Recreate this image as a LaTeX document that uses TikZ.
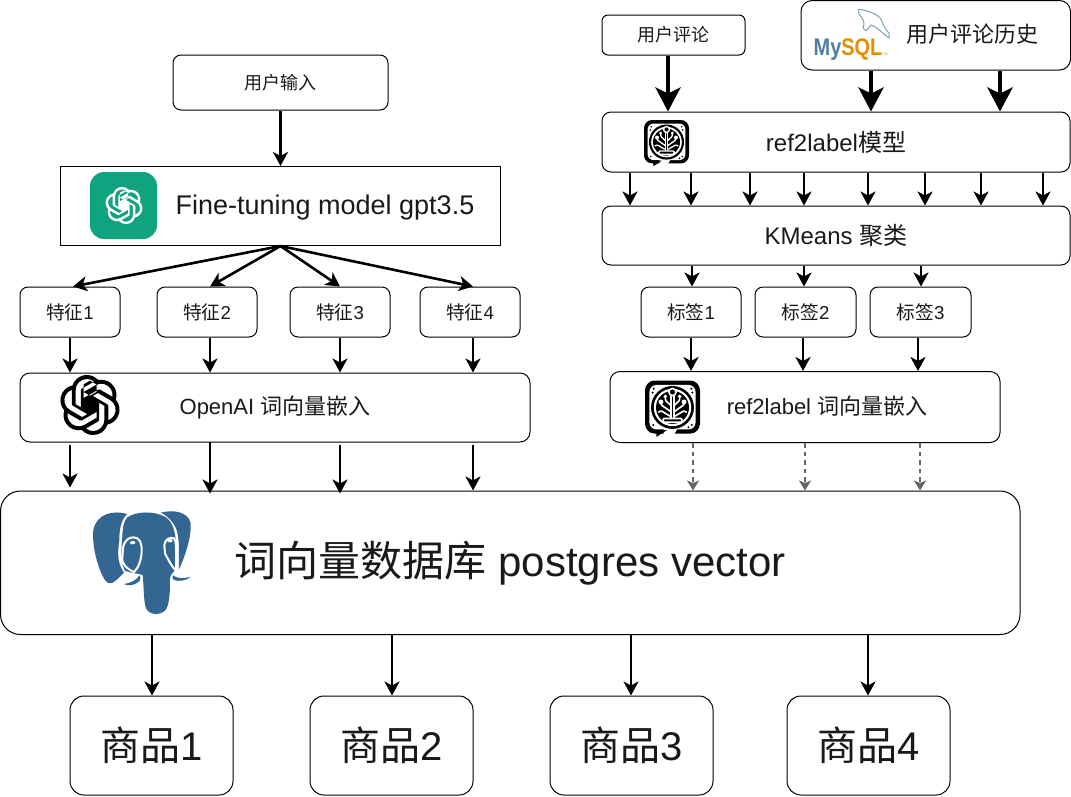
\documentclass[tikz,border=0pt]{standalone}
\usepackage{fontspec}
\setmainfont{Liberation Sans}
\newfontfamily\cjk{Noto Sans CJK SC}
\usetikzlibrary{arrows.meta,svg.path}
\newcommand{\zh}[1]{{\cjk #1}}
\newcommand{\fsz}[1]{\fontsize{#1}{#1}\selectfont}
\definecolor{pgblue}{HTML}{336791}
\definecolor{gptgreen}{HTML}{10A37F}
\definecolor{mysqlblue}{HTML}{4F7FA0}
\definecolor{mysqlorange}{HTML}{E48E00}
\definecolor{dolphin}{HTML}{7FA0B4}
\definecolor{dashgrey}{HTML}{666666}
\tikzset{
  rbox/.style={draw=black,line width=1pt,rounded corners=#1,inner sep=0pt,align=center,text=black!90},
  rbox/.default=8pt,
  lab/.style={inner sep=0pt,text=black!90},
  arr/.style={line width=2.6pt,-{Stealth[length=14pt,width=15pt,inset=4pt]}},
  thick arr/.style={line width=4.8pt,-{Stealth[length=24pt,width=25pt,inset=6pt]}},
  dash arr/.style={line width=1.8pt,dashgrey,dash pattern=on 4.5pt off 4pt,-{Stealth[length=10pt,width=12pt,inset=2.5pt]}},
}
\newcommand{\cornerbox}[7]{%
  \pgfmathsetmacro{\cbx}{(#2+#4)/2}\pgfmathsetmacro{\cby}{(#3+#5)/2}%
  \pgfmathsetmacro{\cbw}{#4-#2}\pgfmathsetmacro{\cbh}{#5-#3}%
  \node[#6,minimum width=\cbw pt,minimum height=\cbh pt] (#1) at (\cbx,\cby) {#7};}
% OpenAI knot: cx, cy, scale, colour
\newcommand{\knot}[4]{%
  \begin{scope}[shift={(#1,#2)},scale=#3,yscale=-1,shift={(-12,12)}]
  \fill[#4,even odd rule] (0,0) svg {M 22.2819 9.8211 a 5.9847 5.9847 0 0 0 -.5157 -4.9108 6.0462 6.0462 0 0 0 -6.5098 -2.9 A 6.0651 6.0651 0 0 0 4.9807 4.1818 a 5.9847 5.9847 0 0 0 -3.9977 2.9 6.0462 6.0462 0 0 0 .7427 7.0966 5.98 5.98 0 0 0 .511 4.9107 6.051 6.051 0 0 0 6.5146 2.9001 A 5.9847 5.9847 0 0 0 13.2599 24 a 6.0557 6.0557 0 0 0 5.7718 -4.2058 5.9894 5.9894 0 0 0 3.9977 -2.9001 6.0557 6.0557 0 0 0 -.7475 -7.0729 z
  m -9.022 12.6081 a 4.4755 4.4755 0 0 1 -2.8764 -1.0408 l .1419 -.0804 4.7783 -2.7582 a .7948 .7948 0 0 0 .3927 -.6813 v -6.7369 l 2.02 1.1686 a .071 .071 0 0 1 .038 .052 v 5.5826 a 4.504 4.504 0 0 1 -4.4945 4.4944 z
  m -9.6607 -4.1254 a 4.4708 4.4708 0 0 1 -.5346 -3.0137 l .142 .0852 4.783 2.7582 a .7712 .7712 0 0 0 .7806 0 l 5.8428 -3.3685 v 2.3324 a .0804 .0804 0 0 1 -.0332 .0615 L 9.74 19.9502 a 4.4992 4.4992 0 0 1 -6.1408 -1.6464 z
  M 2.3408 7.8956 a 4.485 4.485 0 0 1 2.3655 -1.9728 V 11.6 a .7664 .7664 0 0 0 .3879 .6765 l 5.8144 3.3543 -2.0201 1.1685 a .0757 .0757 0 0 1 -.071 0 l -4.8303 -2.7865 A 4.504 4.504 0 0 1 2.3408 7.872 z
  m 16.5963 3.8558 L 13.1038 8.364 15.1192 7.2 a .0757 .0757 0 0 1 .071 0 l 4.8303 2.7913 a 4.4944 4.4944 0 0 1 -.6765 8.1042 v -5.6772 a .79 .79 0 0 0 -.407 -.667 z
  m 2.0107 -3.0231 l -.142 -.0852 -4.7735 -2.7818 a .7759 .7759 0 0 0 -.7854 0 L 9.409 9.2297 V 6.8974 a .0662 .0662 0 0 1 .0284 -.0615 l 4.8303 -2.7866 a 4.4992 4.4992 0 0 1 6.6802 4.66 z
  M 8.3065 12.863 l -2.02 -1.1638 a .0804 .0804 0 0 1 -.038 -.0567 V 6.0742 a 4.4992 4.4992 0 0 1 7.3757 -3.4537 l -.142 .0805 L 8.704 5.459 a .7948 .7948 0 0 0 -.3927 .6813 z
  m 1.0976 -2.3654 l 2.602 -1.4998 2.6069 1.4998 v 2.9994 l -2.5974 1.4997 -2.6067 -1.4997 Z};
  \end{scope}}
% ref2label icon: cx, cy, half size
\newcommand{\brainicon}[3]{%
  \begin{scope}[shift={(#1,#2)},x=#3pt,y=-#3pt]
    \pgfmathsetmacro{\rc}{0.36*#3}\pgfmathsetmacro{\lw}{0.06*#3}\pgfmathsetmacro{\rci}{0.26*#3}\pgfmathsetmacro{\lwb}{0.09*#3}
    \fill[black,rounded corners=\rc pt] (-1,-1) rectangle (1,.93);
    \fill[white,rounded corners=\rci pt] (-.84,-.84) rectangle (.84,.78);
    \fill[white] (-.32,.72) -- (.2,.72) -- (.05,.98) -- (-.32,.98) -- cycle;
    \fill[black] (-.6,.8) -- (-.58,1.05) -- (-.2,.8) -- cycle;
    \fill[black] (0,-.02) circle (.78);
    \fill[white] (0,-.02) circle (.68);
    \fill[black] (0,-.02) circle (.6);
    \fill[white] (-.42,-.22) circle (.09) (.42,-.22) circle (.09) (-.26,-.42) circle (.07) (.26,-.42) circle (.07);
    \draw[white,line width=\lw pt,fill=black] (0,-.58) circle (.13);
    \draw[white,line width=\lw pt] (-.05,-.45) -- (-.05,.36) (.05,-.45) -- (.05,.36);
    \draw[white,line width=\lw pt,rounded corners=1pt]
      (-.05,-.08) -- (-.26,-.28) -- (-.26,-.42)
      (.05,-.08) -- (.26,-.28) -- (.26,-.42)
      (-.05,.14) -- (-.42,-.12) -- (-.42,-.22)
      (.05,.14) -- (.42,-.12) -- (.42,-.22)
      (-.08,.3) -- (-.42,.1) -- (-.52,.16)
      (.08,.3) -- (.42,.1) -- (.52,.16);
    \draw[white,line width=\lw pt,rounded corners=1pt] (-.34,.38) rectangle (.34,.52);
    \foreach \p/\q in {-.7/.62,.7/.62,-.68/-.7,.68/-.7,.58/.7,-.72/-.56,.72/-.56}{\fill[black] (\p,\q) circle (.04);}
  \end{scope}}
\begin{document}
\begin{tikzpicture}[x=1pt,y=-1pt]
\useasboundingbox (0,0) rectangle (1071,796);
\fill[white] (0,0) rectangle (1071,796);

% ---- left column boxes
\cornerbox{input}{173}{55}{388}{110}{rbox}{\fsz{18}\zh{用户输入}}
\cornerbox{gpt}{60.5}{166.5}{500.5}{245.5}{draw=black,line width=1pt,inner sep=0pt}{}
\cornerbox{f1}{20}{287}{120}{337}{rbox}{\fsz{18.7}\zh{特征}1}
\cornerbox{f2}{157}{287}{257}{337}{rbox}{\fsz{18.7}\zh{特征}2}
\cornerbox{f3}{290}{287}{390}{337}{rbox}{\fsz{18.7}\zh{特征}3}
\cornerbox{f4}{420}{287}{520}{337}{rbox}{\fsz{18.7}\zh{特征}4}
\cornerbox{emb}{20}{373}{530}{442}{rbox=10pt}{\fsz{22}OpenAI \zh{词向量嵌入}}
\cornerbox{db}{0.5}{491}{1020}{634.5}{rbox=20pt}{\fsz{42}\raisebox{-2pt}{\zh{词向量数据库} postgres vector}}
\cornerbox{g1}{70}{696}{233}{795}{rbox=14pt}{\fsz{40}\zh{商品}1}
\cornerbox{g2}{310}{696}{473}{795}{rbox=14pt}{\fsz{40}\zh{商品}2}
\cornerbox{g3}{550}{696}{713}{795}{rbox=14pt}{\fsz{40}\zh{商品}3}
\cornerbox{g4}{787}{696}{950}{795}{rbox=14pt}{\fsz{40}\zh{商品}4}

% ---- right column boxes
\cornerbox{rev}{602}{15}{745}{55}{rbox=6pt}{\fsz{18}\zh{用户评论}}
\cornerbox{hist}{801}{0.5}{1070.5}{70}{rbox=11pt}{}
\cornerbox{model}{602}{112}{1070}{172}{rbox=9pt}{\fsz{24}ref2label\zh{模型}}
\cornerbox{km}{602}{206}{1070}{265}{rbox=9pt}{\fsz{24}KMeans \zh{聚类}}
\cornerbox{t1}{641}{287}{741}{337}{rbox}{\fsz{18.7}\zh{标签}1}
\cornerbox{t2}{755}{287}{856}{337}{rbox}{\fsz{18.7}\zh{标签}2}
\cornerbox{t3}{870}{287}{971}{337}{rbox}{\fsz{18.7}\zh{标签}3}
\cornerbox{remb}{610}{371.5}{1000}{442.5}{rbox=10pt}{}

% ---- off-centre labels
\node[lab,font=\fsz{27}] (gptlab) at (325,208) {Fine-tuning model gpt3.5};
\node[lab,font=\fsz{22}] (histlab) at (972,34) {\zh{用户评论历史}};
\node[lab,font=\fsz{22}] (remblab) at (827,406) {ref2label \zh{词向量嵌入}};

% ---- icons
\fill[gptgreen,rounded corners=14pt] (90,172) rectangle (157,239);
\knot{124}{205.5}{1.55}{white}
\knot{90}{405}{2.5}{black}
\brainicon{666.5}{142.5}{22.5}
\brainicon{672.5}{408}{27.5}

% MySQL
\node[lab,anchor=base west,font=\bfseries\fsz{24},xscale=.83] (mysqlword) at (813.5,55.5)
  {\textcolor{mysqlblue}{My}\textcolor{mysqlorange}{SQL}};
\node[lab,anchor=base west,font=\fsz{3.5},text=mysqlorange] (mysqltm) at (882.5,55.5) {TM};
\draw[dolphin,line width=1pt,line cap=round,line join=round]
  (858.3,9.3) .. controls (866,10) and (876,13) .. (881,19)
  .. controls (883,24) and (885,30) .. (889,33)
  -- (889,38) -- (884,34)
  .. controls (880,31) and (877,27) .. (871,25)
  .. controls (869,27) and (868,29) .. (866,31)
  -- (863,28) .. controls (865,24) and (864,19) .. (859,14) -- cycle;

% PostgreSQL elephant
\begin{scope}[shift={(70,500)},x=.3333pt,y=-.3333pt]
  \fill[pgblue] (172,42) .. controls (130,30) and (80,40) .. (70,90)
    .. controls (65,140) and (85,210) .. (105,240)
    .. controls (120,260) and (130,250) .. (162,218)
    .. controls (142,190) and (142,160) .. (148,120)
    .. controls (148,90) and (152,60) .. (172,42) -- cycle;
  \fill[pgblue] (272,38) .. controls (310,28) and (355,35) .. (362,70)
    .. controls (365,110) and (345,170) .. (327,208)
    .. controls (326,170) and (330,120) .. (320,90)
    .. controls (310,65) and (294,48) .. (272,38) -- cycle;
  \fill[pgblue] (172,52) .. controls (200,33) and (255,32) .. (288,52)
    .. controls (312,68) and (320,110) .. (318,160)
    -- (318,208) .. controls (310,215) and (302,222) .. (300,235)
    .. controls (300,270) and (300,300) .. (290,325)
    .. controls (280,345) and (240,350) .. (228,325)
    .. controls (220,300) and (222,260) .. (218,225)
    .. controls (205,220) and (180,220) .. (165,212)
    .. controls (152,190) and (153,150) .. (157,110)
    .. controls (158,85) and (160,65) .. (172,52) -- cycle;
  \draw[white,line width=2pt,line join=round]
    (158,165) .. controls (158,140) and (160,115) .. (190,112)
    .. controls (210,112) and (216,130) .. (215,155)
    .. controls (214,180) and (205,205) .. (192,216)
    .. controls (175,210) and (150,190) .. (158,165) -- cycle;
  \draw[white,line width=2pt,line join=round]
    (283,135) .. controls (285,118) and (300,110) .. (312,115)
    .. controls (322,125) and (318,180) .. (318,212)
    .. controls (305,200) and (290,170) .. (285,160) -- cycle;
  \fill[white] (188,128) ellipse (8 and 5);
  \fill[white] (300,122) ellipse (8 and 5);
  \fill[pgblue] (162,252) .. controls (185,248) and (200,240) .. (208,226)
    .. controls (215,235) and (212,245) .. (195,252)
    .. controls (185,257) and (170,257) .. (162,252) -- cycle;
  \fill[pgblue] (308,226) .. controls (325,238) and (345,235) .. (362,230)
    .. controls (350,243) and (325,245) .. (312,240)
    .. controls (308,236) and (307,232) .. (308,226) -- cycle;
\end{scope}

% ---- connectors
\draw[arr] (input) -- (gpt);
\coordinate (fan) at (gpt.south);
\draw[arr] (fan) -- (73,0 |- f1.north);
\draw[arr] (fan) -- (210,0 |- f2.north);
\draw[arr] (fan) -- (340,0 |- f3.north);
\draw[arr] (fan) -- (473,0 |- f4.north);

\foreach \s/\x in {f1/70,f2/210,f3/340,f4/473}{
  \draw[arr] (\x,0 |- \s.south) -- (\x,0 |- emb.north);
}
\foreach \x/\st/\e in {70/445/3,210/442/-3,340/445/-3,473/445/0}{
  \draw[arr,shorten >=\e pt] (\x,\st) -- (\x,0 |- db.north);
}
\foreach \g/\x in {g1/152,g2/392,g3/631,g4/868}{
  \draw[arr] (\x,0 |- db.south) -- (\x,0 |- \g.north);
}
\draw[thick arr] (668,0 |- rev.south) -- (668,0 |- model.north);
\draw[thick arr] (871,0 |- hist.south) -- (871,0 |- model.north);
\draw[thick arr] (1000,0 |- hist.south) -- (1000,0 |- model.north);
\foreach \x in {630,691,750,804,868,925,981,1043}{
  \draw[arr] (\x,0 |- model.south) -- (\x,0 |- km.north);
}
\foreach \t/\x in {t1/692,t2/804,t3/921}{
  \draw[arr] (\x,0 |- km.south) -- (\x,0 |- \t.north);
}
\foreach \t/\x in {t1/691,t2/803,t3/918}{
  \draw[arr] (\x,0 |- \t.south) -- (\x,0 |- remb.north);
}
\foreach \x in {693,805,920}{
  \draw[dash arr] (\x,0 |- remb.south) -- (\x,0 |- db.north);
}
\end{tikzpicture}
\end{document}
